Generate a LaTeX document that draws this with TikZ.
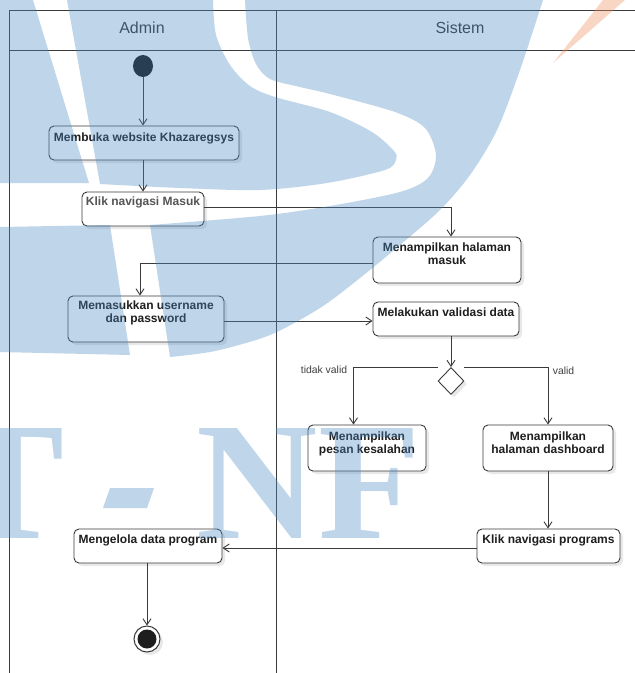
\documentclass[tikz,border=0pt]{standalone}
\usepackage{fontspec}
\setmainfont{Liberation Sans}
\newfontfamily\wmserif{Liberation Serif}
\usetikzlibrary{arrows.meta,shapes.geometric,shadows}

\definecolor{ink}{HTML}{1E1E1E}
\definecolor{softink}{HTML}{555555}
\definecolor{stroke}{HTML}{3A3A3A}
\definecolor{wmblue}{HTML}{4E8BC5}
\definecolor{wmorange}{HTML}{F19059}

\begin{document}
\begin{tikzpicture}[x=1pt,y=-1pt,
  lane/.style={draw=stroke, line width=1pt},
  lanetitle/.style={font=\fontsize{16}{16}\selectfont, text=ink!90, inner sep=0pt},
  act/.style={draw=stroke, line width=0.9pt, rounded corners=5pt, fill=white, inner sep=0pt,
    drop shadow={shadow xshift=3pt, shadow yshift=-3pt, fill=black!40, opacity=0.22}},
  acttext/.style={anchor=north, inner sep=0pt, align=center, text=ink,
    font=\fontsize{12}{12.6}\selectfont\bfseries},
  flow/.style={draw=stroke, line width=0.9pt, -{Straight Barb[length=6pt,width=8pt]}},
  guard/.style={font=\fontsize{10.4}{12}\selectfont, text=ink!85, inner sep=0pt},
  decision/.style={diamond, draw=stroke, line width=0.9pt, fill=white, inner sep=0pt,
    minimum width=26pt, minimum height=27pt,
    drop shadow={shadow xshift=3pt, shadow yshift=-3pt, fill=black!40, opacity=0.22}},
  wmletter/.style={inner sep=0pt, anchor=base west, text=wmblue, text opacity=0.36,
    font=\wmserif\bfseries\fontsize{168}{168}\selectfont}
]
\useasboundingbox (0,0) rectangle (635,673);
\fill[white] (0,0) rectangle (635,673);

% swimlanes
\draw[lane] (9.5,673) -- (9.5,10) -- (635,10);
\draw[lane] (9.5,50) -- (635,50);
\draw[lane] (276,10) -- (276,673);
\node[lanetitle] (admin) at (142,28) {Admin};
\node[lanetitle] (sistem) at (460,28) {Sistem};

% initial node
\node[ellipse, fill=black!92, minimum width=20pt, minimum height=22pt, inner sep=0pt] (start) at (143,66) {};

% activities
\node[act, minimum width=190pt, minimum height=34pt] (n1) at (144,143) {};
\node[acttext] (t1) at ([yshift=-7.5pt]n1.north) {Membuka website Khazaregsys};

\node[act, minimum width=122pt, minimum height=34pt] (n2) at (143,209) {};
\node[acttext, text=softink] (t2) at ([yshift=-5.5pt]n2.north) {Klik navigasi Masuk};

\node[act, minimum width=148pt, minimum height=46pt] (n3) at (447,260) {};
\node[acttext] (t3) at ([yshift=-6.5pt]n3.north) {Menampilkan halaman\\masuk};

\node[act, minimum width=156pt, minimum height=46pt] (n4) at (146,319) {};
\node[acttext] (t4) at ([yshift=-5.5pt]n4.north) {Memasukkan username\\dan password};

\node[act, minimum width=146pt, minimum height=34pt] (n5) at (446,319) {};
\node[acttext] (t5) at ([yshift=-6.5pt]n5.north) {Melakukan validasi data};

\node[decision] (dia) at (451,381) {};

\node[act, minimum width=118pt, minimum height=46pt] (n6) at (367,448) {};
\node[acttext] (t6) at ([yshift=-7.5pt]n6.north) {Menampilkan\\pesan kesalahan};

\node[act, minimum width=130pt, minimum height=46pt] (n7) at (548,448) {};
\node[acttext] (t7) at ([yshift=-7.5pt]n7.north) {Menampilkan\\halaman dashboard};

\node[act, minimum width=143pt, minimum height=34pt] (n8) at (548.5,546) {};
\node[acttext] (t8) at ([yshift=-6.5pt]n8.north) {Klik navigasi programs};

\node[act, minimum width=148pt, minimum height=34pt] (n9) at (148,546) {};
\node[acttext] (t9) at ([yshift=-6.5pt]n9.north) {Mengelola data program};

% final node
\node[circle, draw=stroke, line width=1pt, fill=white, minimum size=26pt, inner sep=0pt,
  drop shadow={shadow xshift=3pt, shadow yshift=-3pt, fill=black!40, opacity=0.22}] (end) at (147,639) {};
\node[circle, fill=ink, minimum size=19pt, inner sep=0pt] (endcore) at (end) {};

% control flows
\draw[flow] (start.south) -- (start.south |- n1.north);
\draw[flow] (n2.north |- n1.south) -- (n2.north);
\draw[flow] ([yshift=2pt]n2.east) -| ([xshift=4pt]n3.north);
\draw[flow] ([yshift=-3pt]n3.west) -| ([xshift=-6pt]n4.north);
\draw[flow] ([yshift=-2pt]n4.east) -- ([yshift=-2pt]n5.west);
\draw[flow] ([xshift=5pt]n5.south) -- (dia.north);
\draw[flow] (dia.west |- dia.north) -| ([xshift=-13.5pt]n6.north);
\draw[flow] (dia.east |- dia.north) -| (n7.north);
\draw[flow] (n7.south) -- (n7.south |- n8.north);
\draw[flow] ([yshift=-2pt]n8.west) -- ([yshift=-2pt]n9.east);
\draw[flow] (end.north |- n9.south) -- (end.north);

\node[guard] (g1) at (324,370) {tidak valid};
\node[guard] (g2) at (563.5,371) {valid};

% watermark logo, laid over the chart
\fill[wmblue, fill opacity=0.36]
  (0,0) -- (33,0) -- (89,183) -- (0,183) -- cycle
  (67,0) -- (213,0) -- plot[smooth] coordinates {(213,0) (216,35) (230,65) (250,86) (275,97) (330,112) (372,132) (394,151) (396,160) (385,170) (327,183) (260,190) (180,188) (100,184)} -- cycle
  (245,0) -- (543,0) -- plot[smooth] coordinates {(543,0) (520,70) (497,130) (470,175) (440,210) (400,245) (360,278) (320,308) (270,335) (215,351) (170,357)}
    -- (150,225) -- plot[smooth] coordinates {(150,225) (260,216) (330,206) (400,192) (428,178) (436,155) (425,128) (395,112) (330,94) (300,87) (270,79) (256,64) (248,38) (245,0)} -- cycle
  (0,227) -- (110,225) -- (130,355) -- (0,352) -- cycle
  (110,488) -- (154,488) -- (147,508) -- (103,508) -- cycle;
\fill[wmorange, fill opacity=0.36] (553,63) -- (603,0) -- (625,0) -- cycle;
\node[wmletter] (wmT) at (-48,538) {T};
\node[wmletter] (wmN) at (196,538) {N};
\node[wmletter] (wmF) at (318,538) {F};
\end{tikzpicture}
\end{document}
